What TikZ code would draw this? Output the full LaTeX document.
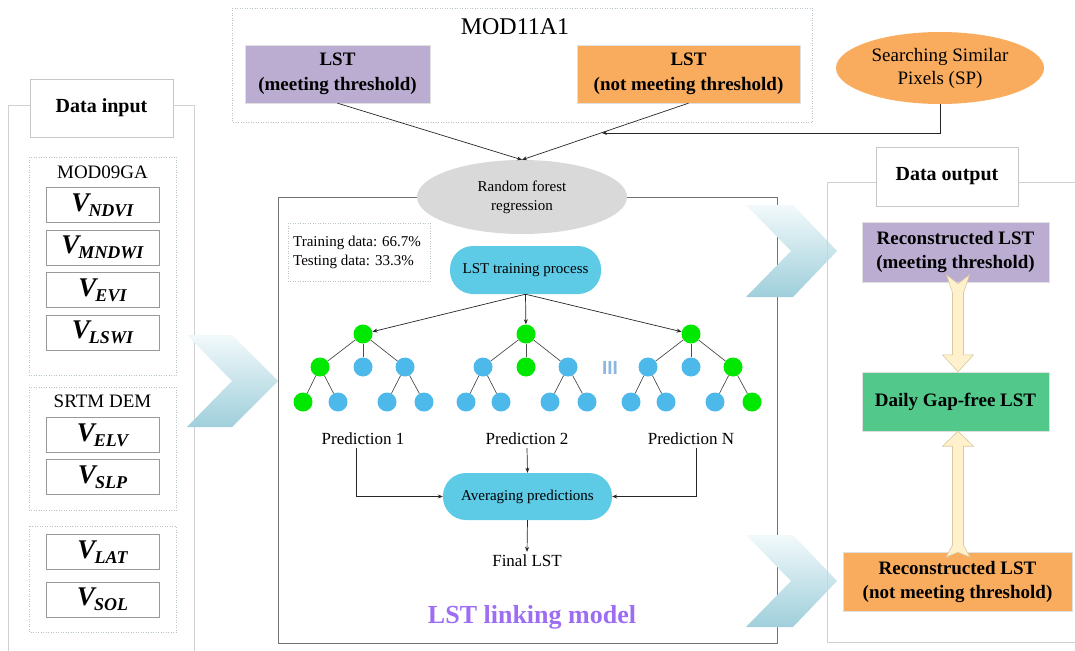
\documentclass[tikz,border=0pt]{standalone}
\usepackage{fontspec}
\setmainfont{Liberation Serif}
\newfontfamily\barsfont{Liberation Sans}
\usetikzlibrary{arrows.meta,shapes.geometric,calc}

\definecolor{lstpurple}{HTML}{BBADD1}
\definecolor{lstorange}{HTML}{FAAC5E}
\definecolor{rfgray}{HTML}{D9D9D9}
\definecolor{pillblue}{HTML}{5DCAE6}
\definecolor{treeblue}{HTML}{4DB9EB}
\definecolor{treegreen}{HTML}{00E800}
\definecolor{gapgreen}{HTML}{52C98B}
\definecolor{modelpurple}{HTML}{9D6DF3}
\definecolor{barblue}{HTML}{8DB7E0}
\definecolor{chevlight}{HTML}{F2F9FB}
\definecolor{chevdark}{HTML}{9FCFDB}
\definecolor{creamfill}{HTML}{FFF1CC}
\definecolor{creamedge}{HTML}{D8C89C}
\definecolor{dotgray}{HTML}{B8C4CC}

% bold italic variable name with subscript
\newcommand\vvar[1]{{\fontsize{27}{27}\selectfont\bfseries\itshape V}\kern-1pt\raisebox{-5pt}{\fontsize{18}{18}\selectfont\bfseries\itshape #1}}

% one regression tree: name, root x, colours of the three middle nodes and four leaves
\newcommand\rftree[9]{%
  \node[treenode, fill=treegreen] (#1r) at (#2,334) {};
  \node[treenode, fill=#3] (#1a) at (#2-43,367) {};
  \node[treenode, fill=#4] (#1b) at (#2,367) {};
  \node[treenode, fill=#5] (#1c) at (#2+42,367) {};
  \node[treenode, fill=#6] (#1d) at (#2-60,402) {};
  \node[treenode, fill=#7] (#1e) at (#2-25,402) {};
  \node[treenode, fill=#8] (#1f) at (#2+24,402) {};
  \node[treenode, fill=#9] (#1g) at (#2+61,402) {};
  \draw[tedge] (#1r) -- (#1a);
  \draw[tedge] (#1r) -- (#1b);
  \draw[tedge] (#1r) -- (#1c);
  \draw[tedge] (#1a) -- (#1d);
  \draw[tedge] (#1a) -- (#1e);
  \draw[tedge] (#1c) -- (#1f);
  \draw[tedge] (#1c) -- (#1g);
}

\begin{document}
\begin{tikzpicture}[x=1pt,y=-1pt,
  panelframe/.style={draw=black!18, line width=0.7pt},
  dotframe/.style={draw=dotgray, dotted, line width=0.5pt},
  titlebox/.style={draw=black!22, fill=white, line width=0.7pt, inner sep=0pt,
    font=\fontsize{20}{24}\selectfont\bfseries},
  vbox/.style={draw=black!40, fill=white, line width=0.7pt, inner sep=0pt,
    minimum width=113pt, minimum height=35pt},
  srclabel/.style={inner sep=0pt, font=\fontsize{19}{22}\selectfont},
  lstbox/.style={draw=black!12, line width=0.4pt, align=center, inner sep=0pt,
    font=\fontsize{19}{25}\selectfont\bfseries},
  pill/.style={fill=pillblue, rounded corners=23pt, inner sep=0pt,
    font=\fontsize{15}{18}\selectfont},
  treenode/.style={circle, minimum size=19pt, inner sep=0pt},
  tedge/.style={draw=black!70, line width=0.7pt},
  arr/.style={draw=black!85, line width=0.7pt, -{Stealth[length=5pt,width=4pt]}},
  predtext/.style={inner sep=3pt, font=\fontsize{17}{20}\selectfont},
  chevron/.style={top color=chevlight, bottom color=chevdark},
  blockarrow/.style={fill=creamfill, draw=creamedge, line width=0.6pt, line join=miter}]

\useasboundingbox (0,0) rectangle (1075,650);

% ---------------- data input column ----------------
\draw[panelframe] (8,660) -- (8,105) -- (194,105) -- (194,660);
\node[titlebox, minimum width=143pt, minimum height=58pt] (intitle) at (101.5,108) {Data input};

\draw[dotframe] (29,157) rectangle (176,375);
\node[srclabel] (mod09) at (102.5,172) {MOD09GA};
\node[vbox] (ndvi)  at (102.5,205) {\vvar{NDVI}};
\node[vbox] (mndwi) at (102.5,247.5) {\vvar{MNDWI}};
\node[vbox] (evi)   at (102.5,290) {\vvar{EVI}};
\node[vbox] (lswi)  at (102.5,332.5) {\vvar{LSWI}};

\draw[dotframe] (29,387) rectangle (176,510);
\node[srclabel] (srtm) at (102.5,401) {SRTM DEM};
\node[vbox] (elv) at (102.5,435) {\vvar{ELV}};
\node[vbox] (slp) at (102.5,477) {\vvar{SLP}};

\draw[dotframe] (29,526) rectangle (176,632);
\node[vbox] (lat) at (102.5,552) {\vvar{LAT}};
\node[vbox] (sol) at (102.5,599.5) {\vvar{SOL}};

% ---------------- MOD11A1 inputs ----------------
\draw[dotframe] (232,8) rectangle (812,122);
\node[inner sep=0pt, font=\fontsize{24}{26}\selectfont] (mod11) at (515,27) {MOD11A1};
\node[lstbox, fill=lstpurple, minimum width=185pt, minimum height=58pt] (lstm) at (337.5,74)
  {LST\\(meeting threshold)};
\node[lstbox, fill=lstorange, minimum width=223pt, minimum height=58pt] (lstn) at (688.5,74)
  {LST\\(not meeting threshold)};
\node[ellipse, fill=lstorange, minimum width=208pt, minimum height=72pt, inner sep=0pt,
  align=center, font=\fontsize{19}{23}\selectfont] (sp) at (940,68)
  {Searching Similar\\Pixels (SP)};

% ---------------- LST linking model ----------------
\draw[draw=black!55, line width=0.9pt] (278,197) rectangle (777,643);
\node[ellipse, fill=rfgray, minimum width=210pt, minimum height=74pt, inner sep=0pt,
  align=center, font=\fontsize{15}{19}\selectfont] (rf) at (522,197)
  {Random forest\\regression};

\draw[arr] (lstm.south) -- (rf.north);
\draw[arr] (lstn.south) -- (rf.north);
\coordinate (spjoin) at (602,133);
\draw[arr] (sp.south) |- (spjoin);

\draw[dotframe] (288,223) rectangle (430,281);
\node[anchor=west, align=left, inner sep=0pt, font=\fontsize{15}{19}\selectfont] (split)
  at (293,252) {Training data: 66.7\%\\Testing data: 33.3\%};

\node[pill, minimum width=151pt, minimum height=48pt] (train) at (525.5,270) {LST training process};

\rftree{ta}{363}{treegreen}{treeblue}{treeblue}{treegreen}{treeblue}{treeblue}{treeblue}
\rftree{tb}{526}{treeblue}{treegreen}{treeblue}{treeblue}{treeblue}{treeblue}{treeblue}
\rftree{tc}{691}{treeblue}{treeblue}{treegreen}{treeblue}{treeblue}{treeblue}{treegreen}
\node[inner sep=0pt, text=barblue, font=\barsfont\bfseries\fontsize{19}{19}\selectfont] (more) at (610,368) {III};

\draw[arr] (train.south) -- (tar);
\draw[arr] (train.south) -- (tbr);
\draw[arr] (train.south) -- (tcr);

\node[predtext] (p1) at (363,439) {Prediction 1};
\node[predtext] (p2) at (527,439) {Prediction 2};
\node[predtext] (pn) at (691,439) {Prediction N};

\node[pill, minimum width=169pt, minimum height=47pt] (avg) at (527.5,496.5) {Averaging predictions};
\node[predtext] (final) at (527,561) {Final LST};

\draw[arr] ([xshift=-7pt]p1.south) |- (avg.west);
\draw[arr] ([xshift=5pt]pn.south) |- (avg.east);
\draw[arr] (p2.south) -- (avg.north);
\draw[arr] (avg.south) -- (final.north);

\node[inner sep=0pt, text=modelpurple, font=\fontsize{26}{28}\selectfont\bfseries] (model)
  at (532,617) {LST linking model};

% ---------------- transfer chevrons ----------------
\shade[chevron] (187,335) -- (232,335) -- (278,381) -- (232,427) -- (187,427) -- (232,381) -- cycle;
\shade[chevron] (746,205) -- (793,205) -- (837,251) -- (793,297) -- (746,297) -- (791,251) -- cycle;
\shade[chevron] (746,535) -- (793,535) -- (837,581) -- (793,627) -- (746,627) -- (791,581) -- cycle;

% ---------------- data output column ----------------
\draw[panelframe] (1090,182) -- (827,182) -- (827,642) -- (1090,642);
\node[titlebox, minimum width=142pt, minimum height=59pt] (outtitle) at (947,176.5) {Data output};

\node[lstbox, fill=lstpurple, minimum width=187pt, minimum height=60pt, font=\fontsize{19}{24}\selectfont\bfseries]
  (rec1) at (955.5,252) {Reconstructed LST\\(meeting threshold)};
\node[lstbox, fill=gapgreen, minimum width=187pt, minimum height=59pt]
  (daily) at (955.5,401.5) {Daily Gap-free LST};
\node[lstbox, fill=lstorange, minimum width=229pt, minimum height=59pt, font=\fontsize{19}{24}\selectfont\bfseries]
  (rec2) at (957.5,581.5) {Reconstructed LST\\(not meeting threshold)};

% block arrows into the gap-free product
\coordinate (downtip) at ($(daily.north)+(2.5,0)$);
\coordinate (uptip) at ($(daily.south)+(2.5,0)$);
\draw[blockarrow, shift={(downtip)}] (0,0) -- (15.5,-17) -- (5.5,-17) -- (5.5,-79) -- (11.5,-97)
  -- (0,-88) -- (-11.5,-97) -- (-5.5,-79) -- (-5.5,-17) -- (-15.5,-17) -- cycle;
\draw[blockarrow, shift={(uptip)}] (0,0) -- (15.5,15) -- (5.5,15) -- (5.5,114) -- (12,126)
  -- (0,121) -- (-12,126) -- (-5.5,114) -- (-5.5,15) -- (-15.5,15) -- cycle;

\end{tikzpicture}
\end{document}
